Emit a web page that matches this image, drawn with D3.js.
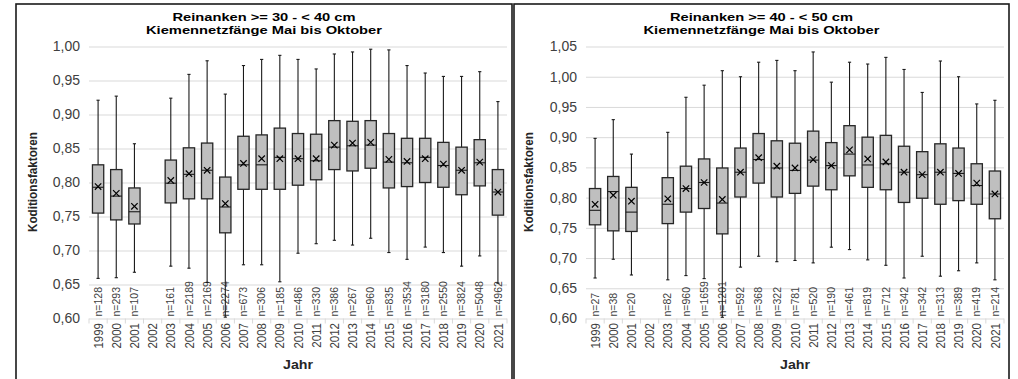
<!DOCTYPE html>
<html>
<head>
<meta charset="utf-8">
<script src="https://cdnjs.cloudflare.com/ajax/libs/d3/7.8.5/d3.min.js"></script>
<style>
  body { margin: 0; background: #fff; }
  svg { display: block; font-family: "Liberation Sans", Arial, sans-serif; }
</style>
</head>
<body>
<svg id="chart" width="1018" height="379"></svg>
<script>
// tick labels (x)
const years = ['1999','2000','2001','2002','2003','2004','2005','2006','2007','2008','2009',
  '2010','2011','2012','2013','2014','2015','2016','2017','2018','2019','2020','2021'];

// Reinanken >= 30 - < 40 cm  (2002: no data)
const nA    = [128, 293, 107, null, 161, 2189, 2169, 2274, 673, 306, 185, 486, 330, 386, 267, 960, 835, 3534, 3180, 2550, 3824, 5048, 4962];
const maxA  = [0.921, 0.927, 0.857, null, 0.924, 0.959, 0.979, 0.930, 0.972, 0.981, 0.987, 0.981, 0.967, 0.989, 0.992, 0.996, 0.995, 0.972, 0.961, 0.956, 0.956, 0.963, 0.919];
const q3A   = [0.826, 0.819, 0.792, null, 0.833, 0.851, 0.858, 0.808, 0.868, 0.870, 0.880, 0.872, 0.871, 0.891, 0.890, 0.891, 0.872, 0.865, 0.865, 0.859, 0.852, 0.863, 0.819];
const medA  = [0.793, 0.780, 0.757, null, 0.799, 0.812, 0.818, 0.764, 0.826, 0.826, 0.837, 0.835, 0.832, 0.852, 0.854, 0.855, 0.830, 0.829, 0.837, 0.825, 0.818, 0.829, 0.786];
const meanA = [0.794, 0.784, 0.765, null, 0.803, 0.813, 0.818, 0.769, 0.828, 0.835, 0.835, 0.835, 0.835, 0.855, 0.858, 0.859, 0.834, 0.831, 0.835, 0.827, 0.818, 0.830, 0.786];
const q1A   = [0.755, 0.745, 0.739, null, 0.770, 0.776, 0.776, 0.726, 0.790, 0.790, 0.790, 0.796, 0.804, 0.819, 0.817, 0.821, 0.792, 0.794, 0.800, 0.793, 0.782, 0.795, 0.752];
const minA  = [0.659, 0.660, 0.668, null, 0.677, 0.674, 0.653, 0.602, 0.679, 0.679, 0.654, 0.696, 0.710, 0.715, 0.708, 0.718, 0.697, 0.687, 0.705, 0.697, 0.677, 0.692, 0.652];

// Reinanken >= 40 - < 50 cm
const nB    = [27, 38, 20, null, 82, 960, 1659, 1201, 592, 368, 322, 781, 520, 190, 461, 819, 712, 342, 342, 313, 389, 419, 214];
const maxB  = [0.898, 0.929, 0.872, null, 0.908, 0.966, 0.986, 1.010, 1.000, 1.024, 1.027, 1.010, 1.041, 0.991, 1.024, 1.021, 1.032, 1.012, 0.974, 1.026, 1.000, 0.955, 0.961];
const q3B   = [0.815, 0.835, 0.817, null, 0.833, 0.852, 0.864, 0.849, 0.882, 0.906, 0.894, 0.890, 0.910, 0.891, 0.919, 0.900, 0.903, 0.885, 0.876, 0.889, 0.882, 0.856, 0.844];
const medB  = [0.779, 0.810, 0.776, null, 0.789, 0.815, 0.825, 0.791, 0.842, 0.863, 0.849, 0.845, 0.862, 0.853, 0.872, 0.854, 0.856, 0.842, 0.838, 0.842, 0.840, 0.820, 0.806];
const meanB = [0.789, 0.804, 0.794, null, 0.798, 0.815, 0.825, 0.797, 0.842, 0.866, 0.852, 0.849, 0.863, 0.853, 0.879, 0.864, 0.859, 0.842, 0.838, 0.842, 0.840, 0.824, 0.806];
const q1B   = [0.755, 0.745, 0.744, null, 0.757, 0.776, 0.782, 0.740, 0.801, 0.824, 0.801, 0.807, 0.819, 0.813, 0.836, 0.817, 0.813, 0.792, 0.799, 0.789, 0.795, 0.789, 0.765];
const minB  = [0.667, 0.698, 0.672, null, 0.664, 0.671, 0.666, 0.602, 0.685, 0.703, 0.694, 0.696, 0.692, 0.718, 0.714, 0.697, 0.688, 0.667, 0.703, 0.670, 0.679, 0.692, 0.664];

const ticksA = [0.60, 0.65, 0.70, 0.75, 0.80, 0.85, 0.90, 0.95, 1.00];
const ticksB = [0.60, 0.65, 0.70, 0.75, 0.80, 0.85, 0.90, 0.95, 1.00, 1.05];

function rows(n, mn, q1, med, mean, q3, mx) {
  return years.map(function(y, i) {
    return {year: y, n: n[i], min: mn[i], q1: q1[i], med: med[i], mean: mean[i], q3: q3[i], max: mx[i]};
  });
}

const svg = d3.select('#chart');
const fmt = d => d3.format('.2f')(d).replace('.', ',');

function drawPanel(cfg) {
  let g = svg.append('g');
  // frame
  g.append('rect')
    .attr('x', cfg.frame[0]).attr('y', 4)
    .attr('width', cfg.frame[1] - cfg.frame[0]).attr('height', 390)
    .style('fill', 'none').style('stroke', '#1a1a1a').style('stroke-width', 1.6);

  let x = d3.scaleBand().domain(years).range(cfg.xr);
  let y = d3.scaleLinear().domain([cfg.ticks[0], cfg.ticks[cfg.ticks.length - 1]]).range([318.5, 46.5]);
  let bw = x.bandwidth() * 0.62;

  // gridlines + y labels
  let yAxis = g.append('g')
    .attr('transform', 'translate(' + cfg.xr[0] + ',0)')
    .call(d3.axisLeft(y).tickValues(cfg.ticks).tickFormat(fmt)
      .tickSize(-(cfg.xr[1] - cfg.xr[0])).tickPadding(9));
  yAxis.select('.domain').remove();
  yAxis.selectAll('line').style('stroke', '#d9d9d9');
  yAxis.selectAll('text').style('font-size', '14px').style('fill', '#404040');

  // category ticks under the axis
  let edges = years.map(d => x(d)).concat([cfg.xr[1]]);
  g.selectAll('.xtick').data(edges).enter().append('line')
    .attr('x1', d => d).attr('x2', d => d)
    .attr('y1', y(cfg.ticks[0])).attr('y2', y(cfg.ticks[0]) + 5)
    .style('stroke', '#d9d9d9');

  // year labels
  g.selectAll('.year').data(years).enter().append('text')
    .attr('transform', d => 'translate(' + (x(d) + x.bandwidth() / 2) + ',323) rotate(-90) scale(1,1.15)')
    .attr('dy', '0.35em')
    .attr('text-anchor', 'end')
    .style('font-size', '11.5px').style('fill', '#404040')
    .text(d => d);

  // n labels
  let data = cfg.data;
  g.selectAll('.nlab').data(data.filter(d => d.n != null)).enter().append('text')
    .attr('transform', d => 'translate(' + (x(d.year) + x.bandwidth() / 2) + ',316.5) rotate(-90)')
    .attr('dy', '0.35em')
    .style('font-size', '10.5px').style('fill', '#404040')
    .text(d => 'n=' + d.n);

  // boxes
  let boxes = g.selectAll('.box').data(data.filter(d => d.max != null)).enter().append('g')
    .attr('transform', d => 'translate(' + (x(d.year) + x.bandwidth() / 2) + ',0)');
  boxes.append('line')
    .attr('x1', 0).attr('x2', 0)
    .attr('y1', d => y(d.max)).attr('y2', d => y(d.min))
    .style('stroke', '#1a1a1a').style('stroke-width', 1.1);
  boxes.append('line').attr('class', 'cap')
    .attr('x1', -1.6).attr('x2', 1.6)
    .attr('y1', d => y(d.max)).attr('y2', d => y(d.max));
  boxes.append('line').attr('class', 'cap')
    .attr('x1', -1.6).attr('x2', 1.6)
    .attr('y1', d => y(d.min)).attr('y2', d => y(d.min));
  boxes.selectAll('.cap').style('stroke', '#1a1a1a').style('stroke-width', 1.1);
  boxes.append('rect')
    .attr('x', -bw / 2).attr('width', bw)
    .attr('y', d => y(d.q3)).attr('height', d => y(d.q1) - y(d.q3))
    .style('fill', '#bfbfbf').style('stroke', '#262626').style('stroke-width', 1.3);
  boxes.append('line')
    .attr('x1', -bw / 2).attr('x2', bw / 2)
    .attr('y1', d => y(d.med)).attr('y2', d => y(d.med))
    .style('stroke', '#1a1a1a').style('stroke-width', 1.1);
  // mean marker
  let s = 3.2;
  boxes.append('path')
    .attr('d', d => 'M' + (-s) + ',' + (y(d.mean) - s) + 'L' + s + ',' + (y(d.mean) + s) +
      'M' + (-s) + ',' + (y(d.mean) + s) + 'L' + s + ',' + (y(d.mean) - s))
    .style('stroke', '#000').style('stroke-width', 1.2).style('fill', 'none');

  // titles (stretched like the original export)
  let cx = (cfg.frame[0] + cfg.frame[1]) / 2;
  g.append('text').attr('x', cx).attr('y', 21).attr('text-anchor', 'middle')
    .attr('textLength', 183).attr('lengthAdjust', 'spacingAndGlyphs')
    .style('font-size', '11.5px').style('font-weight', 'bold').text(cfg.title1);
  g.append('text').attr('x', cx).attr('y', 33.5).attr('text-anchor', 'middle')
    .attr('textLength', 236).attr('lengthAdjust', 'spacingAndGlyphs')
    .style('font-size', '11.5px').style('font-weight', 'bold').text(cfg.title2);

  // axis titles
  g.append('text').attr('x', (cfg.xr[0] + cfg.xr[1]) / 2).attr('y', 368.5).attr('text-anchor', 'middle')
    .attr('textLength', 30).attr('lengthAdjust', 'spacingAndGlyphs')
    .style('font-size', '12.5px').style('font-weight', 'bold').style('fill', '#262626').text('Jahr');
  g.append('text')
    .attr('transform', 'translate(' + cfg.ylabX + ',' + 182 + ') rotate(-90)')
    .attr('dy', '0.35em').attr('text-anchor', 'middle')
    .attr('textLength', 100).attr('lengthAdjust', 'spacingAndGlyphs')
    .style('font-size', '12px').style('font-weight', 'bold').style('fill', '#262626')
    .text('Koditionsfaktoren');
}

drawPanel({
  frame: [16, 512], xr: [89, 507], ticks: ticksA, ylabX: 33,
  title1: 'Reinanken >= 30 - < 40 cm', title2: 'Kiemennetzfänge Mai bis Oktober',
  data: rows(nA, minA, q1A, medA, meanA, q3A, maxA)
});
drawPanel({
  frame: [514, 1009], xr: [586, 1004], ticks: ticksB, ylabX: 529,
  title1: 'Reinanken >= 40 - < 50 cm', title2: 'Kiemennetzfänge Mai bis Oktober',
  data: rows(nB, minB, q1B, medB, meanB, q3B, maxB)
});
</script>
</body>
</html>
